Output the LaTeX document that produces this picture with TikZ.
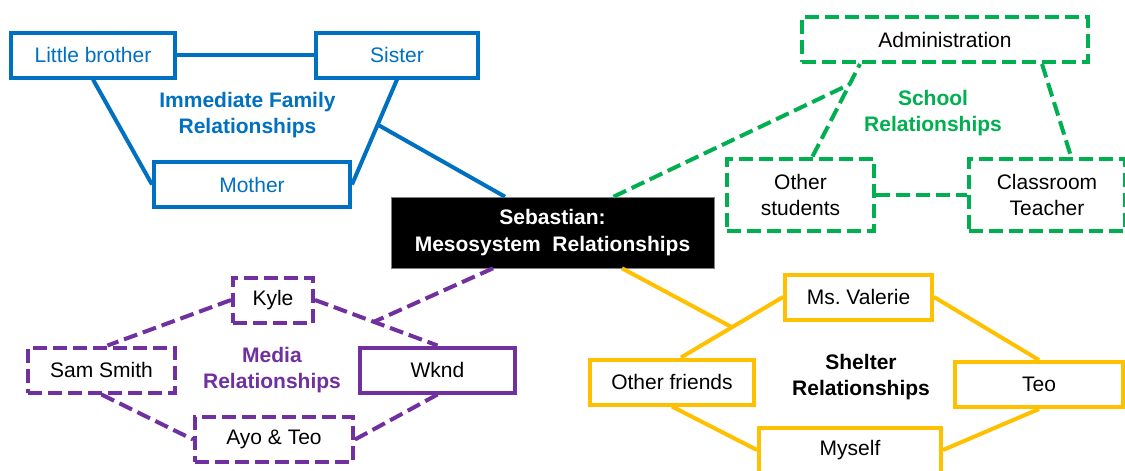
\documentclass[tikz,border=0pt]{standalone}
\usepackage{fontspec}
\setmainfont{Liberation Sans}
\usepackage{tikz}
\usetikzlibrary{positioning}
\definecolor{famblue}{HTML}{0070C0}
\definecolor{schgreen}{HTML}{00B050}
\definecolor{medpurple}{HTML}{7030A0}
\definecolor{shelyellow}{HTML}{FFC000}

\begin{document}
\begin{tikzpicture}[x=1pt, y=-1pt, font=\fontsize{21}{26}\selectfont, node distance=10pt]
\tikzstyle{box}=[draw, line width=4pt, align=center, minimum height=45pt, inner sep=2pt]
\tikzstyle{dashbox}=[box, dash pattern=on 14pt off 6pt]
\tikzstyle{lbl}=[align=center, font=\fontsize{21}{26}\selectfont\bfseries]
\tikzstyle{link}=[line width=4pt]
\tikzstyle{dlink}=[link, dash pattern=on 14pt off 6pt]
\fill[white] (0,0) rectangle (1125,471);
\useasboundingbox (0,0) rectangle (1125,471);
% centre
\node[fill=black, text=white, draw=gray, line width=0.6pt, minimum width=323pt, minimum height=71pt, align=center, font=\fontsize{21}{27}\selectfont\bfseries] (seb) at (552.5,232.5) {Sebastian:\\ Mesosystem\ \ Relationships};
% family
\node[box, draw=famblue, text=famblue, minimum width=164pt] (lbro) at (93,55) {Little brother};
\node[box, draw=famblue, text=famblue, minimum width=162pt, right=137pt of lbro] (sister) {Sister};
\node[box, draw=famblue, text=famblue, minimum width=196pt] (mother) at (252,184.5) {Mother};
\node[lbl, text=famblue] (famlbl) at (247.5,115) {Immediate Family\\ Relationships};
\draw[link, famblue] (lbro) -- (sister);
\draw[link, famblue] (lbro.south) -- (mother.west);
\draw[link, famblue] (sister.south) -- coordinate[pos=0.43] (famjoin) (mother.east);
\draw[link, famblue] (famjoin) -- ([xshift=-47.5pt]seb.north);
% school
\node[dashbox, draw=schgreen, minimum width=286pt] (admin) at (945,39.5) {Administration};
\node[dashbox, draw=schgreen, minimum width=147pt, minimum height=72pt] (ostud) at (800.5,194.5) {Other\\ students};
\node[dashbox, draw=schgreen, minimum width=156pt, minimum height=72pt, right=91pt of ostud] (cteach) {Classroom\\ Teacher};
\node[lbl, text=schgreen] (schlbl) at (933,113.5) {School\\ Relationships};
\draw[dlink, schgreen] ([xshift=12pt]ostud.north) -- coordinate[pos=0.78] (schjoin) ([xshift=-85pt]admin.south);
\draw[dlink, schgreen] ([xshift=61pt]seb.north) -- (schjoin);
\draw[dlink, schgreen] ([xshift=97pt]admin.south) -- ([xshift=24pt]cteach.north);
\draw[dlink, schgreen] (ostud) -- (cteach);
% media
\node[dashbox, draw=medpurple, minimum width=80pt] (kyle) at (273,300) {Kyle};
\node[dashbox, draw=medpurple, minimum width=147pt] (sam) at (101.5,370) {Sam Smith};
\node[box, draw=medpurple, minimum width=155pt] (wknd) at (437.5,370) {Wknd};
\node[dashbox, draw=medpurple, minimum width=158pt] (ayo) at (274,439.5) {Ayo \& Teo};
\node[lbl, text=medpurple] (medlbl) at (272,370) {Media\\ Relationships};
\draw[dlink, medpurple] (kyle.west) -- ([xshift=6pt]sam.north);
\draw[dlink, medpurple] (kyle.east) -- coordinate[pos=0.48] (medjoin) (wknd.north);
\draw[dlink, medpurple] (sam.south) -- (ayo.west);
\draw[dlink, medpurple] (ayo.east) -- (wknd.south);
\draw[dlink, medpurple] ([xshift=-59.5pt]seb.south) -- (medjoin);
% shelter
\node[box, draw=shelyellow, minimum width=147pt] (msval) at (858.5,297) {Ms.\ Valerie};
\node[box, draw=shelyellow, minimum width=164pt] (ofri) at (672,382) {Other friends};
\node[box, draw=shelyellow, minimum width=168pt] (teo) at (1039,384.5) {Teo};
\node[box, draw=shelyellow, minimum width=182pt] (myself) at (850,450) {Myself};
\node[lbl] (shellbl) at (861,377) {Shelter\\ Relationships};
\draw[link, shelyellow] ([xshift=9pt]ofri.north) -- coordinate[pos=0.5] (sheljoin) (msval.west);
\draw[link, shelyellow] (msval.east) -- (teo.north);
\draw[link, shelyellow] (ofri.south) -- (myself.west);
\draw[link, shelyellow] (myself.east) -- (teo.south);
\draw[link, shelyellow] ([xshift=69.5pt]seb.south) -- (sheljoin);
\end{tikzpicture}
\end{document}
